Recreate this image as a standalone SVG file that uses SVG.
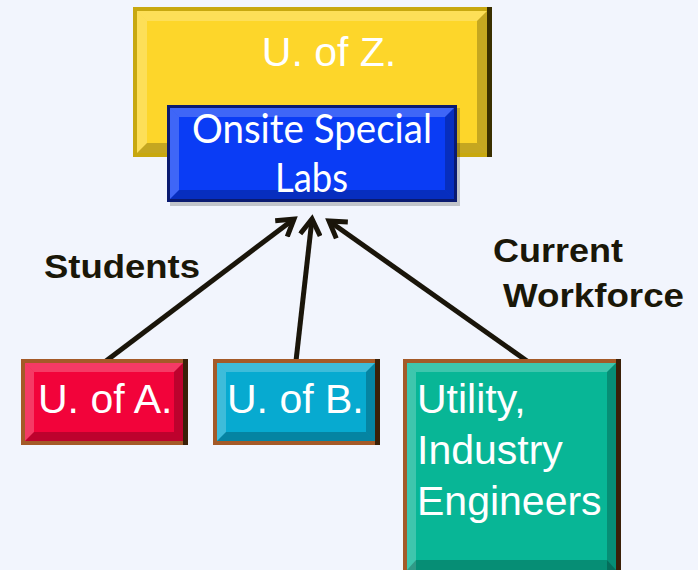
<svg xmlns="http://www.w3.org/2000/svg" width="698" height="570" viewBox="0 0 698 570">
<defs>
<style>
.lbl{font-family:"Liberation Sans",Arial,sans-serif;fill:#ffffff;font-size:41px}
.cal{font-family:Lato,"Open Sans","Liberation Sans",sans-serif;fill:#ffffff;font-size:40px}
.bold{font-family:"Liberation Sans",Arial,sans-serif;font-weight:bold;fill:#1a1708;font-size:33px}
.conn{stroke:#1a150a;stroke-width:5;fill:none;stroke-linecap:butt}
.hi{fill:#ffffff;opacity:0.22}
.lo{fill:#000000;opacity:0.22}
</style>
<marker id="ah" viewBox="0 0 24 24" refX="19" refY="12" markerWidth="24" markerHeight="24" markerUnits="userSpaceOnUse" orient="auto">
<path d="M3,2 L19,12 L3,22" fill="none" stroke="#1a150a" stroke-width="5" stroke-linejoin="miter"/>
</marker>
</defs>
<rect width="698" height="570" fill="#f2f5fd"/>

<g id="uofz">
<rect x="133" y="7" width="359" height="150" fill="#c8a810"/>
<rect x="137" y="11" width="350" height="142" fill="#fdd62a"/>
<polygon points="137,11 487,11 477,21 147,21" class="hi"/>
<polygon points="137,11 147,21 147,143 137,153" class="hi"/>
<polygon points="487,11 487,153 477,143 477,21" class="lo"/>
<polygon points="137,153 147,143 477,143 487,153" class="lo"/>
<rect x="487" y="7" width="5" height="150" fill="#3a2f00"/>
<text class="lbl" x="329" y="66" font-size="47" text-anchor="middle">U. of Z.</text>
</g>

<g id="labs">
<rect x="170" y="108" width="290" height="98" fill="#000000" opacity="0.2"/>
<rect x="167" y="105" width="290" height="97" fill="#0a1a70"/>
<rect x="170" y="108" width="284" height="91" fill="#0a3cf5"/>
<polygon points="170,108 454,108 445,117 179,117" class="hi"/>
<polygon points="170,108 179,117 179,190 170,199" class="hi"/>
<polygon points="454,108 454,199 445,190 445,117" class="lo"/>
<polygon points="170,199 179,190 445,190 454,199" class="lo"/>
<text class="cal" x="192" y="143" textLength="240" lengthAdjust="spacingAndGlyphs">Onsite Special</text>
<text class="cal" x="275" y="192" textLength="73" lengthAdjust="spacingAndGlyphs">Labs</text>
</g>

<g id="connectors">
<line class="conn" x1="106" y1="361" x2="294" y2="219" marker-end="url(#ah)"/>
<line class="conn" x1="296" y1="361" x2="312" y2="219" marker-end="url(#ah)"/>
<line class="conn" x1="527" y1="361" x2="329" y2="221" marker-end="url(#ah)"/>
</g>

<g id="students">
<text class="bold" x="44" y="278" textLength="156" lengthAdjust="spacingAndGlyphs">Students</text>
</g>
<g id="workforce">
<text class="bold" x="493" y="262" textLength="130" lengthAdjust="spacingAndGlyphs">Current</text>
<text class="bold" x="503" y="307" textLength="181" lengthAdjust="spacingAndGlyphs">Workforce</text>
</g>

<g id="uofa">
<rect x="21" y="359" width="167" height="86" fill="#a45a28"/>
<rect x="25" y="363" width="158" height="78" fill="#f2033a"/>
<polygon points="25,363 183,363 174,372 34,372" class="hi"/>
<polygon points="25,363 34,372 34,432 25,441" class="hi"/>
<polygon points="183,363 183,441 174,432 174,372" class="lo"/>
<polygon points="25,441 34,432 174,432 183,441" class="lo"/>
<rect x="183" y="359" width="5" height="86" fill="#3a2008"/>
<text class="lbl" x="38" y="413">U. of A.</text>
</g>

<g id="uofb">
<rect x="213" y="359" width="167" height="86" fill="#a45a28"/>
<rect x="217" y="363" width="158" height="78" fill="#07aad0"/>
<polygon points="217,363 375,363 366,372 226,372" class="hi"/>
<polygon points="217,363 226,372 226,432 217,441" class="hi"/>
<polygon points="375,363 375,441 366,432 366,372" class="lo"/>
<polygon points="217,441 226,432 366,432 375,441" class="lo"/>
<rect x="375" y="359" width="5" height="86" fill="#3a2008"/>
<text class="lbl" x="227" y="413">U. of B.</text>
</g>

<g id="utility">
<rect x="403" y="359" width="218" height="215" fill="#a45a28"/>
<rect x="407" y="363" width="209" height="207" fill="#08b696"/>
<polygon points="407,363 616,363 607,372 416,372" class="hi"/>
<polygon points="407,363 416,372 416,570 407,570" class="hi"/>
<polygon points="616,363 616,570 607,570 607,372" class="lo"/>
<polygon points="416,560 607,560 616,570 407,570" class="lo"/>
<rect x="616" y="359" width="5" height="211" fill="#3a2008"/>
<text class="lbl" x="417" y="413">Utility,</text>
<text class="lbl" x="417" y="464">Industry</text>
<text class="lbl" x="417" y="515">Engineers</text>
</g>
</svg>
